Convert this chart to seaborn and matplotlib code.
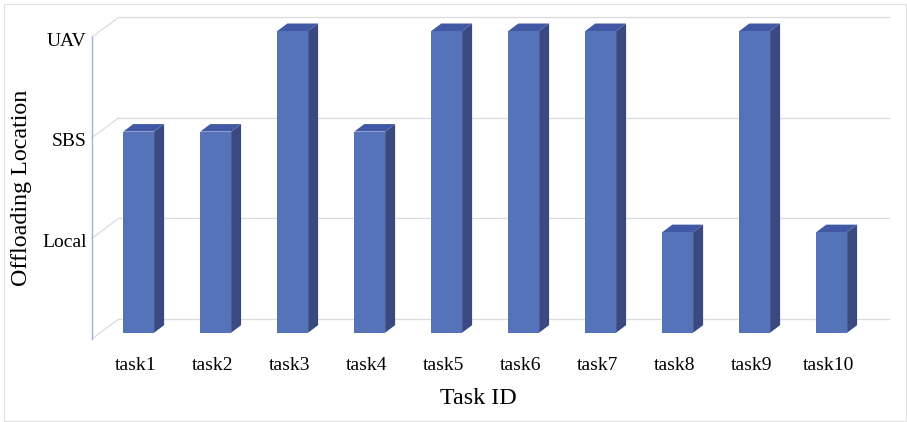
import matplotlib
matplotlib.use("Agg")
import matplotlib.pyplot as plt
import numpy as np
import pandas as pd
import seaborn as sns
from matplotlib.patches import Polygon, Rectangle
from matplotlib.transforms import ScaledTranslation

# Offloading decision for each task (1 = Local, 2 = SBS, 3 = UAV)
tasks = ["task1", "task2", "task3", "task4", "task5",
         "task6", "task7", "task8", "task9", "task10"]
locations = ["Local", "SBS", "UAV"]
level = [2, 2, 3, 2, 3, 3, 3, 1, 3, 1]

FRONT = "#5473B8"
TOP = "#4159A5"
SIDE = "#3A4A80"
GRID = "#DCDCDC"
AXIS = "#9DB2DE"

sns.set_theme(style="white")
plt.rcParams["font.family"] = ["Liberation Serif", "DejaVu Serif"]

W, H, DPI = 907, 422, 100
fig = plt.figure(figsize=(W / DPI, H / DPI), dpi=DPI)

# axes = front plane of the pseudo-3D box (pixels)
ax_left, ax_right, ax_bottom, ax_top = 91.7, 861.7, 339.0, 37.3
ax = fig.add_axes([ax_left / W, (H - ax_bottom) / H,
                   (ax_right - ax_left) / W, (ax_bottom - ax_top) / H])

df = pd.DataFrame({"task": tasks, "level": level})
sns.barplot(data=df, x="task", y="level", color=FRONT, width=0.4,
            saturation=1, edgecolor="none", ax=ax, zorder=3)
ax.set_xlim(-0.5, len(tasks) - 0.5)
ax.set_ylim(0, 3)

# pixel -> data unit conversions
px_x = (ax_right - ax_left) / len(tasks)
px_y = (ax_bottom - ax_top) / 3.0


def shifted(dx, dy):
    return ax.transData + ScaledTranslation(dx / DPI, dy / DPI, fig.dpi_scale_trans)


# depth geometry (pixels): back wall offset, bar front offset, bar depth
WALL_DX, WALL_DY = 27.0, 20.0
BAR_DX, BAR_DY = 8.5, 6.3
DEP_DX, DEP_DY = 10.0, 7.5

# back wall gridlines and the floor/level diagonals
wall = shifted(WALL_DX, WALL_DY)
for v in range(4):
    ax.plot([-0.5, len(tasks) - 0.5], [v, v], color=GRID, lw=0.9,
            transform=wall, clip_on=False, zorder=0.5)
    ax.plot([-0.5, -0.5 + WALL_DX / px_x], [v, v + WALL_DY / px_y],
            color=GRID, lw=0.9, transform=ax.transData, clip_on=False, zorder=0.5)

# bars: move the front faces into the box, then add top and side faces
bar_tr = shifted(BAR_DX, BAR_DY)
ddx, ddy = DEP_DX / px_x, DEP_DY / px_y
for p in list(ax.patches):
    p.set_transform(bar_tr)
    p.set_clip_on(False)
    x0, w, h = p.get_x(), p.get_width(), p.get_height()
    side = Polygon([(x0 + w, 0), (x0 + w + ddx, ddy), (x0 + w + ddx, h + ddy), (x0 + w, h)],
                   closed=True, facecolor=SIDE, edgecolor="none",
                   transform=bar_tr, clip_on=False, zorder=2.9)
    top = Polygon([(x0, h), (x0 + w, h), (x0 + w + ddx, h + ddy), (x0 + ddx, h + ddy)],
                  closed=True, facecolor=TOP, edgecolor="none",
                  transform=bar_tr, clip_on=False, zorder=2.9)
    ax.add_patch(side)
    ax.add_patch(top)

for s in ["top", "right", "bottom"]:
    ax.spines[s].set_visible(False)
ax.spines["left"].set_color(AXIS)
ax.spines["left"].set_linewidth(1.0)

ax.set_yticks([1, 2, 3], labels=locations)
ax.tick_params(axis="y", length=0, pad=3.5, labelsize=14, labelcolor="black")
ax.tick_params(axis="x", length=0, pad=13, labelsize=14, labelcolor="black")
for lab in ax.get_xticklabels():
    lab.set_transform(lab.get_transform() + ScaledTranslation(5 / DPI, 0, fig.dpi_scale_trans))
for lab in ax.get_yticklabels():
    lab.set_transform(lab.get_transform() + ScaledTranslation(0, -2 / DPI, fig.dpi_scale_trans))

ax.set_xlabel("Task ID", fontsize=17.3, color="black")
ax.set_ylabel("Offloading Location", fontsize=17.3, color="black")
ax.xaxis.set_label_coords((478.8 - ax_left) / (ax_right - ax_left), -(388 - ax_bottom) / (ax_bottom - ax_top))
ax.yaxis.set_label_coords(-(ax_left - 32) / (ax_right - ax_left), 0.5)

fig.patches.append(Rectangle((4 / W, 1.5 / H), 902 / W, 417 / H, transform=fig.transFigure,
                             fill=False, edgecolor="#E0E0E0", lw=0.8))

fig.savefig("out.png", dpi=DPI)
